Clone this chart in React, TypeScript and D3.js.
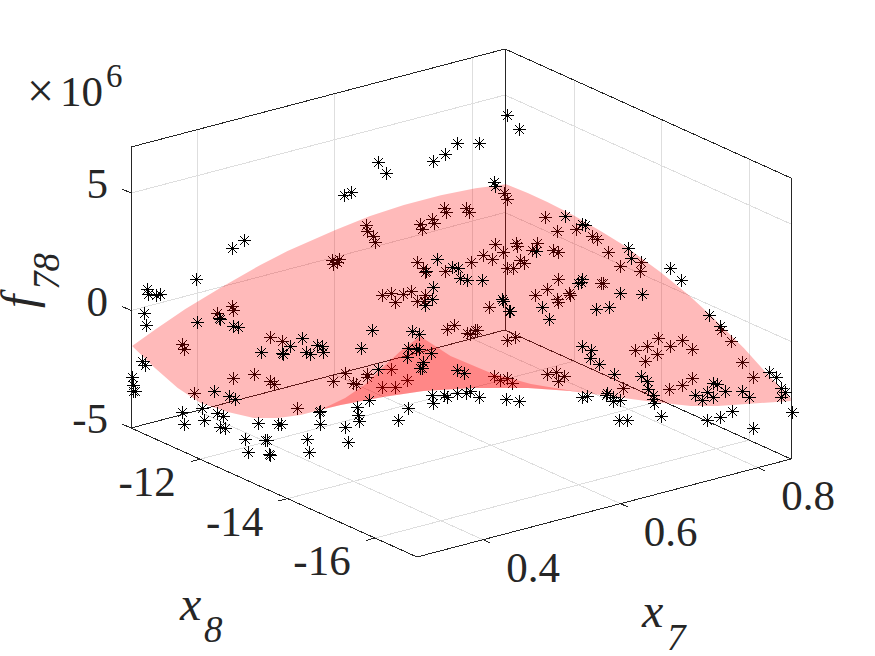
import * as d3 from 'd3';

// f78 in units of 1e6
const x7Ticks = [0.4, 0.6, 0.8];
const x8Ticks = [-12, -14, -16];
const fTicks = [5, 0, -5];

const x7Limits = [0.304, 0.848];
const x8Limits = [-16.96, -10.42];
const fLimits = [-5, 6.96];

// A flat picture does not give the depth of a sample, so samples are read as
// [x7, f] and sit on one slice through the box that faces the camera.
const sliceX7 = [0.304, 0.914];
const sliceX8 = [-10.42, -15.992];

// samples that the surface covers
const samplesBehind: [number, number][] = [
  [0.384, -0.11], [0.397, 0.19], [0.398, -0.02], [0.351, -1.43], [0.353, -1.64], [0.432, -1.13], [0.443, -1.3],
  [0.398, -2.91], [0.418, -2.74], [0.432, -3.04], [0.436, -3.13], [0.362, -3.55], [0.49, -3.0], [0.501, -2.66],
  [0.457, -4.19], [0.489, 2.11], [0.496, 2.19], [0.49, 1.94], [0.494, 2.06], [0.648, 4.96], [0.65, 4.74],
  [0.592, 4.36], [0.594, 4.19], [0.613, 4.36], [0.615, 4.19], [0.581, 3.89], [0.583, 3.72], [0.57, 3.68],
  [0.572, 3.43], [0.521, 3.6], [0.522, 3.38], [0.527, 3.13], [0.529, 2.91], [0.685, 3.94], [0.696, 3.38],
  [0.639, 2.79], [0.659, 2.87], [0.66, 2.74], [0.678, 2.87], [0.673, 2.57], [0.693, 2.57], [0.697, 2.45],
  [0.628, 2.36], [0.647, 2.45], [0.637, 2.19], [0.662, 2.15], [0.666, 2.02], [0.65, 1.81], [0.656, 1.77],
  [0.617, 2.06], [0.568, 2.06], [0.573, 1.77], [0.575, 1.6], [0.593, 1.68], [0.697, 1.34], [0.687, 0.91],
  [0.676, 0.62], [0.696, 0.45], [0.697, 0.36], [0.707, 0.74], [0.708, 0.66], [0.535, 0.62], [0.544, 0.74],
  [0.555, 0.7], [0.562, 0.83], [0.547, 0.36], [0.568, 0.4], [0.575, 0.62], [0.574, 0.4], [0.634, 0.15],
  [0.595, -0.79], [0.602, -0.62], [0.614, -0.96], [0.616, -1.0], [0.621, -0.83], [0.623, -0.87], [0.65, -1.26],
  [0.658, -1.13], [0.509, -3.09], [0.511, -3.13], [0.522, -2.74], [0.522, -2.83], [0.544, -2.49], [0.535, -3.26],
  [0.547, -3.26], [0.558, -2.96], [0.638, -2.79], [0.644, -2.96], [0.65, -2.91], [0.655, -3.09], [0.687, -2.74],
  [0.695, -2.62], [0.703, -2.79], [0.697, -3.0], [0.714, 3.47], [0.729, 3.13], [0.733, 3.04], [0.743, 2.45],
  [0.774, 2.06], [0.773, 1.68], [0.754, 1.89], [0.737, 1.13], [0.739, 1.13], [0.768, -1.68], [0.779, -1.55],
  [0.789, -1.17], [0.8, -1.51], [0.811, -1.26], [0.821, -1.64], [0.788, -1.85], [0.777, -2.15], [0.856, -1.3],
  [0.847, -0.87], [0.867, -2.23], [0.877, -2.83], [0.757, -3.3], [0.799, -3.38], [0.811, -3.21], [0.821, -2.91],
];

// samples in front of the surface, or clear of it
const samplesFront: [number, number][] = [
  [0.65, 8.28], [0.661, 7.72], [0.625, 7.09], [0.604, 7.09], [0.593, 6.66], [0.582, 6.36], [0.532, 6.32],
  [0.539, 5.85], [0.507, 5.04], [0.5, 4.91], [0.408, 2.96], [0.397, 2.62], [0.364, 1.34], [0.319, 0.91],
  [0.32, 0.7], [0.327, 0.62], [0.331, 0.7], [0.316, -0.11], [0.318, -0.62], [0.365, -0.53], [0.385, -0.32],
  [0.386, -0.4], [0.398, -0.66], [0.403, -0.74], [0.315, -2.15], [0.317, -2.36], [0.305, -2.87], [0.306, -3.17],
  [0.306, -3.43], [0.308, -3.43], [0.451, -1.51], [0.462, -1.17], [0.424, -1.77], [0.443, -1.85], [0.444, -1.89],
  [0.465, -1.77], [0.469, -1.89], [0.476, -1.47], [0.48, -1.55], [0.481, -1.77], [0.381, -3.43], [0.395, -3.68],
  [0.4, -3.77], [0.477, -4.32], [0.478, -4.28], [0.351, -4.32], [0.37, -4.15], [0.353, -4.87], [0.372, -4.7],
  [0.384, -4.4], [0.389, -4.49], [0.386, -4.96], [0.391, -5.04], [0.421, -4.79], [0.44, -4.87], [0.442, -4.87],
  [0.478, -4.83], [0.409, -5.51], [0.428, -5.55], [0.43, -5.55], [0.412, -6.06], [0.431, -6.11], [0.432, -6.15],
  [0.466, -5.47], [0.468, -6.06], [0.501, -4.96], [0.504, -5.6], [0.512, -4.11], [0.513, -4.45], [0.514, -4.74],
  [0.55, -4.66], [0.559, -4.19], [0.523, -3.81], [0.638, 5.47], [0.639, 5.26], [0.704, 4.02], [0.677, 2.53],
  [0.586, 2.19], [0.576, 1.68], [0.6, 1.85], [0.605, 1.81], [0.607, 1.38], [0.614, 1.26], [0.627, 1.26],
  [0.582, 0.96], [0.581, 0.45], [0.575, 0.23], [0.646, 0.45], [0.647, 0.4], [0.652, -0.06], [0.653, -0.06],
  [0.683, 0.11], [0.689, -0.4], [0.526, -0.87], [0.563, -0.91], [0.569, -1.0], [0.516, -1.6], [0.559, -1.6],
  [0.567, -1.64], [0.569, -1.64], [0.58, -1.85], [0.558, -2.02], [0.573, -2.23], [0.57, -2.45], [0.572, -2.45],
  [0.532, -2.49], [0.604, -2.57], [0.611, -2.7], [0.581, -3.6], [0.582, -3.94], [0.592, -3.6], [0.595, -3.72],
  [0.604, -3.51], [0.613, -3.51], [0.616, -3.43], [0.625, -3.72], [0.649, -3.77], [0.661, -3.89], [0.719, -3.72],
  [0.724, -3.68], [0.719, -1.51], [0.728, -1.72], [0.727, -2.06], [0.735, -2.28], [0.719, 3.68], [0.722, 3.6],
  [0.762, 2.66], [0.764, 2.23], [0.8, 1.81], [0.81, 1.26], [0.836, -0.23], [0.846, -0.66], [0.718, 1.21],
  [0.719, 1.3], [0.716, 1.13], [0.754, 0.74], [0.775, 0.7], [0.732, 0.06], [0.744, 0.11], [0.749, -2.74],
  [0.774, -2.79], [0.779, -3.0], [0.78, -3.38], [0.785, -3.6], [0.785, -3.77], [0.786, -3.94], [0.742, -3.55],
  [0.748, -3.72], [0.754, -3.85], [0.748, -3.89], [0.741, -3.6], [0.753, -4.66], [0.761, -4.7], [0.792, -4.49],
  [0.823, -3.6], [0.83, -3.85], [0.834, -3.47], [0.84, -3.09], [0.844, -3.13], [0.84, -3.72], [0.851, -3.43],
  [0.867, -3.43], [0.873, -3.72], [0.891, -2.62], [0.898, -2.87], [0.902, -3.3], [0.906, -3.47], [0.902, -3.72],
  [0.913, -4.36], [0.877, -5.0], [0.857, -4.28], [0.846, -4.57], [0.834, -4.7],
];

// rim of the fitted surface, same [x7, f] reading
const surfaceRim: [number, number][] = [
  [0.305, -1.51], [0.327, -0.79], [0.354, 0.06], [0.386, 0.96], [0.423, 1.94], [0.448, 2.53], [0.492, 3.43],
  [0.524, 4.02], [0.555, 4.49], [0.589, 4.91], [0.621, 5.21], [0.649, 5.38], [0.669, 5.0], [0.687, 4.62],
  [0.711, 4.06], [0.736, 3.38], [0.757, 2.79], [0.791, 1.64], [0.817, 0.66], [0.837, -0.19], [0.868, -1.6],
  [0.886, -2.53], [0.911, -3.72], [0.911, -3.85], [0.883, -3.94], [0.844, -4.06], [0.819, -4.06], [0.785, -3.89],
  [0.736, -3.6], [0.708, -3.43], [0.669, -3.3], [0.619, -3.3], [0.573, -3.43], [0.536, -3.68], [0.497, -4.02],
  [0.478, -4.23], [0.46, -4.45], [0.439, -4.57], [0.417, -4.57], [0.393, -4.32], [0.368, -3.94], [0.347, -3.3],
  [0.325, -2.4],
];

// the part where the sheet folds over itself
const surfaceFold: [number, number][] = [
  [0.478, -4.23], [0.501, -3.72], [0.52, -3.13], [0.538, -2.32], [0.552, -1.72], [0.57, -1.09], [0.598, -1.94],
  [0.635, -2.66], [0.672, -3.13], [0.727, -3.55], [0.708, -3.43], [0.669, -3.3], [0.619, -3.3], [0.573, -3.43],
  [0.536, -3.68], [0.497, -4.02],
];

const axisColor = '#262626';
const gridColor = '#dedede';
const serif = '"Liberation Serif", "Times New Roman", Times';

const u = d3.scaleLinear().domain(x7Limits).range([0, 1]);
const v = d3.scaleLinear().domain(x8Limits).range([0, 1]);
const rise = d3.scaleLinear().domain(fLimits).range([0, 281]);
const sliceDepth = d3.scaleLinear().domain(sliceX7).range(sliceX8);

function project(x7: number, x8: number, f: number): [number, number] {
  return [
    417 + 374 * u(x7) - 286 * v(x8),
    557 - 98 * u(x7) - 129 * v(x8) - rise(f),
  ];
}

const onSlice = (d: [number, number]) => project(d[0], sliceDepth(d[0]), d[1]);

const sheet = d3.line<[number, number]>()
  .x(d => onSlice(d)[0])
  .y(d => onSlice(d)[1]);

function segment(a: [number, number], b: [number, number]) {
  return d3.line()([a, b]) as string;
}

function stars(samples: [number, number][]) {
  const p = d3.path();
  samples.forEach(d => {
    // snap to the pixel grid so the upright strokes stay one pixel wide
    const x = Math.floor(onSlice(d)[0]) + 0.5;
    const y = Math.floor(onSlice(d)[1]) + 0.5;
    p.moveTo(x - 6.5, y); p.lineTo(x + 6.5, y);
    p.moveTo(x, y - 6.5); p.lineTo(x, y + 6.5);
    p.moveTo(x - 4.5, y - 4.5); p.lineTo(x + 4.5, y + 4.5);
    p.moveTo(x - 4.5, y + 4.5); p.lineTo(x + 4.5, y - 4.5);
  });
  return p.toString();
}

export default function App() {
  const [x7a, x7b] = x7Limits;
  const [x8a, x8b] = x8Limits;
  const [fa, fb] = fLimits;

  // walls and floor
  const gridLines: string[] = [];
  x7Ticks.forEach(t => {
    gridLines.push(segment(project(t, x8a, fa), project(t, x8b, fa)));
    gridLines.push(segment(project(t, x8b, fa), project(t, x8b, fb)));
  });
  x8Ticks.forEach(t => {
    gridLines.push(segment(project(x7a, t, fa), project(x7b, t, fa)));
    gridLines.push(segment(project(x7b, t, fa), project(x7b, t, fb)));
  });
  fTicks.forEach(t => {
    gridLines.push(segment(project(x7a, x8b, t), project(x7b, x8b, t)));
    gridLines.push(segment(project(x7b, x8b, t), project(x7b, x8a, t)));
  });

  const boxLines = [
    segment(project(x7a, x8b, fa), project(x7a, x8b, fb)),
    segment(project(x7b, x8b, fa), project(x7b, x8b, fb)),
    segment(project(x7b, x8a, fa), project(x7b, x8a, fb)),
    segment(project(x7a, x8b, fb), project(x7b, x8b, fb)),
    segment(project(x7b, x8b, fb), project(x7b, x8a, fb)),
    segment(project(x7b, x8b, fa), project(x7b, x8a, fa)),
    segment(project(x7a, x8b, fa), project(x7b, x8b, fa)),
    segment(project(x7a, x8b, fa), project(x7a, x8a, fa)),
    segment(project(x7a, x8a, fa), project(x7b, x8a, fa)),
  ];

  const tickLines = [
    ...x7Ticks.map(t => segment(project(t, x8a, fa), project(t, x8a - 0.16, fa))),
    ...x8Ticks.map(t => segment(project(x7a, t, fa), project(x7a - 0.0135, t, fa))),
    ...fTicks.map(t => segment(project(x7a, x8b, t), project(x7a, x8b + 0.2, t))),
  ];

  const tickText = { fontFamily: serif, fontSize: 43, fill: axisColor };

  return (
    <svg width={875} height={656} style={{ position: 'absolute', left: 0, top: 0, background: '#fff' }}>
      <g fill="none" stroke={gridColor} strokeWidth={1} shapeRendering="crispEdges">
        {gridLines.map((d, i) => <path key={i} d={d} />)}
      </g>
      <g fill="none" stroke={axisColor} strokeWidth={1} shapeRendering="crispEdges">
        {boxLines.map((d, i) => <path key={i} d={d} />)}
        {tickLines.map((d, i) => <path key={i} d={d} />)}
      </g>

      <path d={stars(samplesBehind)} fill="none" stroke="#000" strokeWidth={1} />

      <path d={(sheet(surfaceRim) as string) + 'Z'} fill="#ff0000" fillOpacity={0.27} />
      <path d={(sheet(surfaceFold) as string) + 'Z'} fill="#ff0000" fillOpacity={0.27} />

      <path d={stars(samplesFront)} fill="none" stroke="#000" strokeWidth={1} />

      {x7Ticks.map(t => {
        const [x, y] = project(t, x8a, fa);
        return <text key={t} x={x + 50} y={y + 42} textAnchor="middle" {...tickText}>{t.toFixed(1)}</text>;
      })}
      {x8Ticks.map(t => {
        const [x, y] = project(x7a, t, fa);
        return <text key={t} x={x - 53} y={y + 37} textAnchor="middle" {...tickText}>{t}</text>;
      })}
      {fTicks.map(t => {
        const [x, y] = project(x7a, x8b, t);
        return <text key={t} x={x - 23} y={y + 5} textAnchor="end" {...tickText}>{t}</text>;
      })}

      <text x={27} y={107} fontFamily={serif} fontSize={48} fill={axisColor}>×</text>
      <text x={60} y={106} {...tickText}>10</text>
      <text x={106} y={87} fontFamily={serif} fontSize={33} fill={axisColor}>6</text>

      <g fontFamily={serif} fontStyle="italic" fill={axisColor}>
        <text transform="translate(35,308) rotate(-90)" fontSize={48}>f</text>
        <text transform="translate(59,290) rotate(-90)" fontSize={37}>78</text>
        <text x={180} y={620} fontSize={48}>x</text>
        <text x={204} y={642} fontSize={37}>8</text>
        <text x={642} y={627} fontSize={48}>x</text>
        <text x={667} y={650} fontSize={37}>7</text>
      </g>
    </svg>
  );
}
